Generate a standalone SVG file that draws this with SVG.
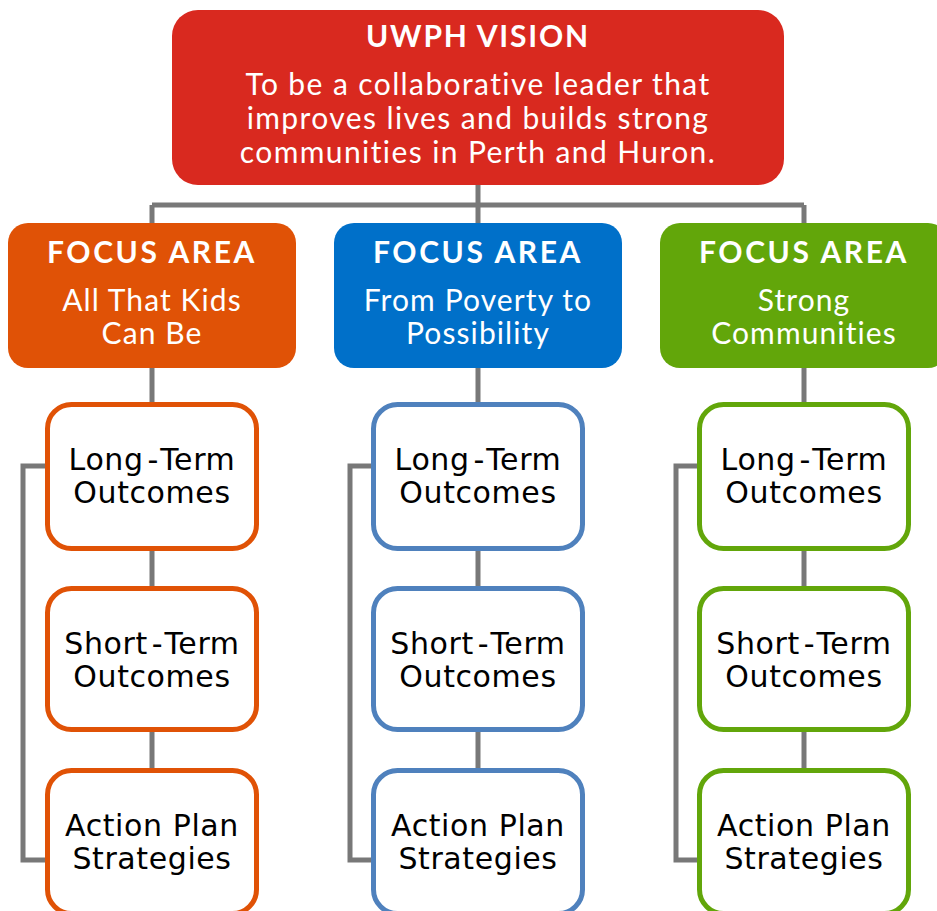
<svg xmlns="http://www.w3.org/2000/svg" width="937" height="911" viewBox="0 0 937 911">
<style>
.w{fill:#fff;font-family:Lato,"Open Sans",sans-serif;text-anchor:middle}
.t{font-weight:bold;font-size:30px;letter-spacing:2.6px}
.v{font-weight:bold;font-size:30px;letter-spacing:1.8px}
.b{font-size:30px;letter-spacing:1.4px}
.s{font-size:30px;letter-spacing:1.1px}
.o{fill:#000;font-family:"DejaVu Sans",Verdana,sans-serif;font-size:30px;letter-spacing:0.6px;text-anchor:middle}
.ln{stroke:#787878;stroke-width:5;fill:none}
.bx{fill:#fff;stroke-width:5}
</style>
<rect width="937" height="911" fill="#fff"/>
<g id="connectors">
<path class="ln" d="M478 185V225M152 205H804M152 205V225M804 205V225"/>
<path class="ln" d="M152 367V404M152 549V588M152 730V770M47 466H23V860H47"/>
<path class="ln" d="M478 367V404M478 549V588M478 730V770M373 466H350V860H373"/>
<path class="ln" d="M804 367V404M804 549V588M804 730V770M699 466H676V860H699"/>
</g>
<g id="vision">
<rect x="172" y="10" width="612" height="175" rx="26" fill="#d9291f"/>
<text class="w v" x="478" y="47">UWPH VISION</text>
<text class="w b" x="478" y="95">To be a collaborative leader that</text>
<text class="w b" x="478" y="129">improves lives and builds strong</text>
<text class="w b" x="478" y="163">communities in Perth and Huron.</text>
</g>
<g id="focus-kids">
<rect x="8" y="223" width="288" height="145" rx="20" fill="#e05206"/>
<text class="w t" x="152" y="263">FOCUS AREA</text>
<text class="w s" x="152" y="311">All That Kids</text>
<text class="w s" x="152" y="344">Can Be</text>
</g>
<g id="focus-poverty">
<rect x="334" y="223" width="288" height="145" rx="20" fill="#0070c9"/>
<text class="w t" x="478" y="263">FOCUS AREA</text>
<text class="w s" x="478" y="311">From Poverty to</text>
<text class="w s" x="478" y="344">Possibility</text>
</g>
<g id="focus-communities">
<rect x="660" y="223" width="288" height="145" rx="20" fill="#62a60a"/>
<text class="w t" x="804" y="263">FOCUS AREA</text>
<text class="w s" x="804" y="311">Strong</text>
<text class="w s" x="804" y="344">Communities</text>
</g>
<g id="kids-long"><rect class="bx" x="47.5" y="404.5" width="209" height="144" rx="24" stroke="#e05206"/><text class="o" x="152" y="470">Long<tspan dx="4">-</tspan><tspan dx="4">Term</tspan></text><text class="o" x="152" y="503">Outcomes</text></g>
<g id="kids-short"><rect class="bx" x="47.5" y="588.5" width="209" height="141" rx="24" stroke="#e05206"/><text class="o" x="152" y="654">Short<tspan dx="4">-</tspan><tspan dx="4">Term</tspan></text><text class="o" x="152" y="687">Outcomes</text></g>
<g id="kids-action"><rect class="bx" x="47.5" y="770.5" width="209" height="143" rx="24" stroke="#e05206"/><text class="o" x="152" y="836">Action Plan</text><text class="o" x="152" y="869">Strategies</text></g>
<g id="poverty-long"><rect class="bx" x="373.5" y="404.5" width="209" height="144" rx="24" stroke="#4f81bd"/><text class="o" x="478" y="470">Long<tspan dx="4">-</tspan><tspan dx="4">Term</tspan></text><text class="o" x="478" y="503">Outcomes</text></g>
<g id="poverty-short"><rect class="bx" x="373.5" y="588.5" width="209" height="141" rx="24" stroke="#4f81bd"/><text class="o" x="478" y="654">Short<tspan dx="4">-</tspan><tspan dx="4">Term</tspan></text><text class="o" x="478" y="687">Outcomes</text></g>
<g id="poverty-action"><rect class="bx" x="373.5" y="770.5" width="209" height="143" rx="24" stroke="#4f81bd"/><text class="o" x="478" y="836">Action Plan</text><text class="o" x="478" y="869">Strategies</text></g>
<g id="communities-long"><rect class="bx" x="699.5" y="404.5" width="209" height="144" rx="24" stroke="#62a60a"/><text class="o" x="804" y="470">Long<tspan dx="4">-</tspan><tspan dx="4">Term</tspan></text><text class="o" x="804" y="503">Outcomes</text></g>
<g id="communities-short"><rect class="bx" x="699.5" y="588.5" width="209" height="141" rx="24" stroke="#62a60a"/><text class="o" x="804" y="654">Short<tspan dx="4">-</tspan><tspan dx="4">Term</tspan></text><text class="o" x="804" y="687">Outcomes</text></g>
<g id="communities-action"><rect class="bx" x="699.5" y="770.5" width="209" height="143" rx="24" stroke="#62a60a"/><text class="o" x="804" y="836">Action Plan</text><text class="o" x="804" y="869">Strategies</text></g>
</svg>
